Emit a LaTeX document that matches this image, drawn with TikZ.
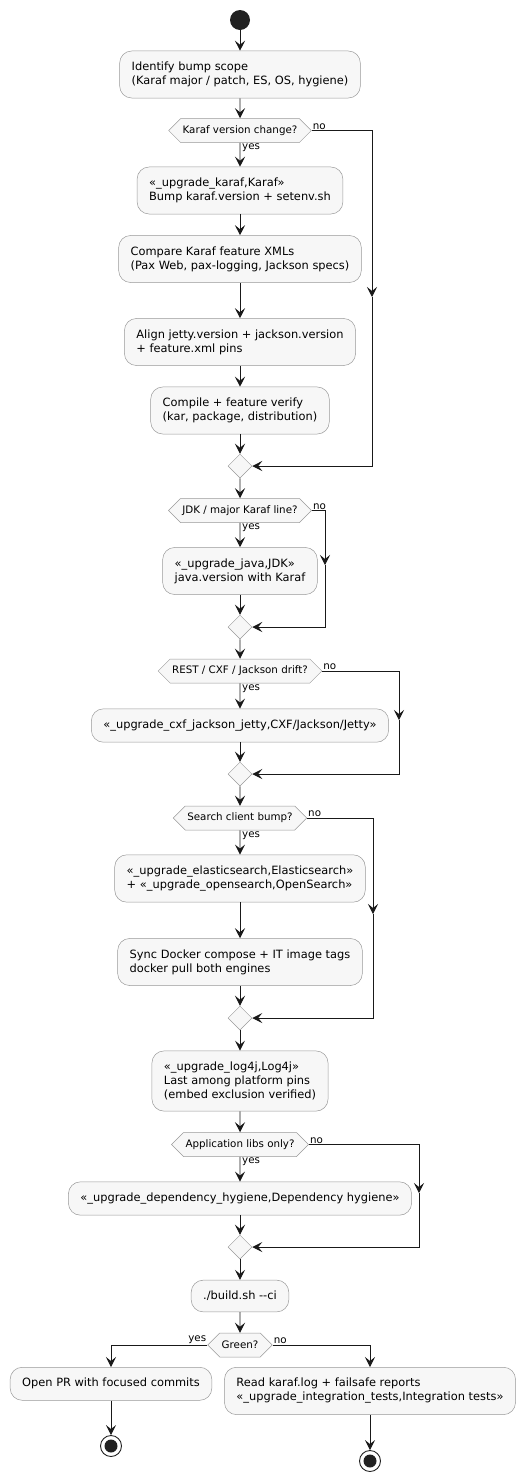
\documentclass[tikz,border=0pt]{standalone}
\usepackage{fontspec}
\setmainfont{DejaVu Sans}
\usetikzlibrary{shapes.geometric, shapes.symbols, arrows.meta, positioning, calc}

\tikzset{
	act/.style={rectangle, rounded corners=12pt, draw=gray!80, line width=0.5pt, fill=gray!6, align=left, inner xsep=12pt, inner ysep=11pt, font=\fontsize{11.4}{14}\selectfont},
	dec/.style={signal, signal to=east and west, draw=gray!80, line width=0.5pt, fill=gray!6, inner xsep=2pt, inner ysep=0pt, minimum height=24pt, font=\fontsize{10.3}{12}\selectfont},
	merge/.style={diamond, draw=gray!80, line width=0.5pt, fill=gray!6, minimum width=24pt, minimum height=24pt, inner sep=0pt},
	flow/.style={draw=black!90, line width=0.9pt, -{Stealth[length=10pt,width=10pt,inset=4pt]}},
	lbl/.style={font=\fontsize{10.3}{12}\selectfont, inner sep=1pt},
	startnode/.style={circle, fill=black!87, minimum size=20pt, inner sep=0pt},
	endnode/.style={circle, draw=black!87, line width=0.9pt, minimum size=21pt, inner sep=0pt, path picture={\fill[black!87] (path picture bounding box.center) circle (6.5pt);}},
}

\begin{document}
\begin{tikzpicture}[x=1pt, y=-1pt]
	\useasboundingbox (0,0) rectangle (522,1481);

	% Main column
	\node[startnode] (start) at (240,20) {};
	\node[act] (scope) at (240,74.5) {Identify bump scope\\(Karaf major / patch, ES, OS, hygiene)};
	\node[dec] (karafq) at (240,130.5) {Karaf version change?};
	\node[act] (karaf) at (240,190.5) {«\_upgrade\_karaf,Karaf»\\Bump karaf.version + setenv.sh};
	\node[act] (compare) at (240,259) {Compare Karaf feature XMLs\\(Pax Web, pax-logging, Jackson specs)};
	\node[act] (align) at (240,342) {Align jetty.version + jackson.version\\+ feature.xml pins};
	\node[act] (compile) at (240,410.5) {Compile + feature verify\\(kar, package, distribution)};
	\node[merge] (m1) at (240,466) {};

	\node[dec] (jdkq) at (240,510.5) {JDK / major Karaf line?};
	\node[act] (java) at (240,571) {«\_upgrade\_java,JDK»\\java.version with Karaf};
	\node[merge] (m2) at (240,627) {};

	\node[dec] (cxfq) at (240,671) {REST / CXF / Jackson drift?};
	\node[act] (cxf) at (240,725.5) {«\_upgrade\_cxf\_jackson\_jetty,CXF/Jackson/Jetty»};
	\node[merge] (m3) at (240,774) {};

	\node[dec] (searchq) at (240,818) {Search client bump?};
	\node[act] (search) at (240,878.5) {«\_upgrade\_elasticsearch,Elasticsearch»\\+ «\_upgrade\_opensearch,OpenSearch»};
	\node[act] (docker) at (240,962) {Sync Docker compose + IT image tags\\docker pull both engines};
	\node[merge] (m4) at (240,1018) {};

	\node[act] (log4j) at (240,1081) {«\_upgrade\_log4j,Log4j»\\Last among platform pins\\(embed exclusion verified)};
	\node[dec] (libsq) at (240,1144.5) {Application libs only?};
	\node[act] (hygiene) at (240,1198.5) {«\_upgrade\_dependency\_hygiene,Dependency hygiene»};
	\node[merge] (m5) at (240,1247) {};

	\node[act] (build) at (240,1296) {./build.sh -{}-ci};
	\node[dec] (greenq) at (240,1345) {Green?};

	% Outcomes
	\node[act, anchor=north] (pr) at (111,1367) {Open PR with focused commits};
	\node[act, anchor=north] (logs) at (370,1367) {Read karaf.log + failsafe reports\\«\_upgrade\_integration\_tests,Integration tests»};
	\node[endnode] (end1) at (111,1446) {};
	\node[endnode] (end2) at (370,1461) {};

	% Bends of the no branches
	\coordinate (r1) at (372,297);
	\coordinate (r2) at (325,565);
	\coordinate (r3) at (399,720);
	\coordinate (r4) at (373,914);
	\coordinate (r5) at (419,1193);

	% Straight flow
	\draw[flow] (start) -- (scope);
	\draw[flow] (scope) -- (karafq);
	\draw[flow] (karafq) -- (karaf);
	\draw[flow] (karaf) -- (compare);
	\draw[flow] (compare) -- (align);
	\draw[flow] (align) -- (compile);
	\draw[flow] (compile) -- (m1);
	\draw[flow] (m1) -- (jdkq);
	\draw[flow] (jdkq) -- (java);
	\draw[flow] (java) -- (m2);
	\draw[flow] (m2) -- (cxfq);
	\draw[flow] (cxfq) -- (cxf);
	\draw[flow] (cxf) -- (m3);
	\draw[flow] (m3) -- (searchq);
	\draw[flow] (searchq) -- (search);
	\draw[flow] (search) -- (docker);
	\draw[flow] (docker) -- (m4);
	\draw[flow] (m4) -- (log4j);
	\draw[flow] (log4j) -- (libsq);
	\draw[flow] (libsq) -- (hygiene);
	\draw[flow] (hygiene) -- (m5);
	\draw[flow] (m5) -- (build);
	\draw[flow] (build) -- (greenq);
	\draw[flow] (pr) -- (end1);
	\draw[flow] (logs) -- (end2);

	% No branches
	\draw[flow] (karafq.east) -| (r1);
	\draw[flow] (r1) |- (m1.east);
	\draw[flow] (jdkq.east) -| (r2);
	\draw[flow] (r2) |- (m2.east);
	\draw[flow] (cxfq.east) -| (r3);
	\draw[flow] (r3) |- (m3.east);
	\draw[flow] (searchq.east) -| (r4);
	\draw[flow] (r4) |- (m4.east);
	\draw[flow] (libsq.east) -| (r5);
	\draw[flow] (r5) |- (m5.east);
	\draw[flow] (greenq.west) -| (pr.north);
	\draw[flow] (greenq.east) -| (logs.north);

	% Branch labels
	\node[lbl, anchor=south west] (no1) at (karafq.east) {no};
	\node[lbl, anchor=north west] (yes1) at ([xshift=1pt]karafq.south) {yes};
	\node[lbl, anchor=south west] (no2) at (jdkq.east) {no};
	\node[lbl, anchor=north west] (yes2) at ([xshift=1pt]jdkq.south) {yes};
	\node[lbl, anchor=south west] (no3) at (cxfq.east) {no};
	\node[lbl, anchor=north west] (yes3) at ([xshift=1pt]cxfq.south) {yes};
	\node[lbl, anchor=south west] (no4) at (searchq.east) {no};
	\node[lbl, anchor=north west] (yes4) at ([xshift=1pt]searchq.south) {yes};
	\node[lbl, anchor=south west] (no5) at (libsq.east) {no};
	\node[lbl, anchor=north west] (yes5) at ([xshift=1pt]libsq.south) {yes};
	\node[lbl, anchor=south east] (yes6) at (greenq.west) {yes};
	\node[lbl, anchor=south west] (no6) at (greenq.east) {no};
\end{tikzpicture}
\end{document}
